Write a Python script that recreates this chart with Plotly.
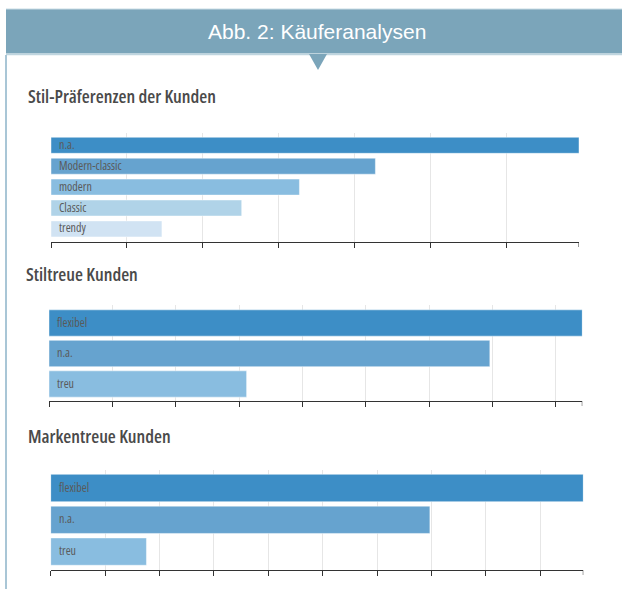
import plotly.graph_objects as go

# ---------------- data ----------------
header_title = "Abb. 2: Käuferanalysen"

stil_title = "Stil-Präferenzen der Kunden"
stil_cats = ["n.a.", "Modern-classic", "modern", "Classic", "trendy"]
stil_vals = [69.5, 42.7, 32.7, 25.1, 14.6]

stiltreue_title = "Stiltreue Kunden"
stiltreue_cats = ["flexibel", "n.a.", "treu"]
stiltreue_vals = [84.2, 69.6, 31.2]

marken_title = "Markentreue Kunden"
marken_cats = ["flexibel", "n.a.", "treu"]
marken_vals = [97.9, 69.7, 17.6]

tick_step = 10

# ---------------- layout helpers ----------------
W, H = 622, 589
def fx(x):
    return x / W
def fy(y):
    return 1 - y / H

palette = ["#3D8EC6", "#66A3CF", "#89BDE0", "#B0D3E8", "#D1E3F3"]
band_color = "#7BA5BA"
title_font = "Open Sans, sans-serif"
label_font = "Open Sans, sans-serif"

def cond(text):
    return f"<span style='font-stretch:75%'>{text}</span>"

charts = [
    dict(title=stil_title, cats=stil_cats, vals=stil_vals,
         x0=51, x1=579, top=133, axis=242, c0=145.3, pitch=20.9, barh=16.0,
         tx=26, ty=95.3),
    dict(title=stiltreue_title, cats=stiltreue_cats, vals=stiltreue_vals,
         x0=49, x1=582.3, top=305, axis=401, c0=323, pitch=30.5, barh=26.3,
         tx=24, ty=273.2),
    dict(title=marken_title, cats=marken_cats, vals=marken_vals,
         x0=50.7, x1=583.3, top=470, axis=570, c0=488, pitch=31.8, barh=27.3,
         tx=26, ty=435.8),
]

fig = go.Figure()
layout = dict(
    width=W, height=H, autosize=False,
    margin=dict(l=0, r=0, t=0, b=0),
    paper_bgcolor="white", plot_bgcolor="rgba(0,0,0,0)",
    showlegend=False,
    shapes=[], annotations=[],
)

for i, ch in enumerate(charts):
    n = i + 1
    xa = "x" if n == 1 else f"x{n}"
    ya = "y" if n == 1 else f"y{n}"
    xkey = "xaxis" if n == 1 else f"xaxis{n}"
    ykey = "yaxis" if n == 1 else f"yaxis{n}"
    vmax = max(ch["vals"])
    ncat = len(ch["cats"])
    fig.add_trace(go.Bar(
        x=ch["vals"], y=ch["cats"], orientation="h",
        xaxis=xa, yaxis=ya,
        width=[ch["barh"] / ch["pitch"]] * ncat,
        marker=dict(color=palette[:ncat],
                    line=dict(color="rgba(255,255,255,0.45)", width=1)),
        hoverinfo="x+y",
    ))
    ticks = []
    t = 0
    while t < vmax - 1e-9:
        ticks.append(t)
        t += tick_step
    layout[xkey] = dict(
        domain=[fx(ch["x0"]), fx(ch["x1"])], anchor=ya,
        range=[0, vmax], tickmode="array", tickvals=ticks,
        showticklabels=False, ticks="outside", ticklen=5, tickwidth=1,
        tickcolor="#333333", showline=True, linecolor="#333333", linewidth=1,
        showgrid=True, gridcolor="#E6E6E6", gridwidth=1, zeroline=False,
        fixedrange=True,
    )
    r0 = (ch["axis"] - ch["c0"]) / ch["pitch"]
    r1 = (ch["top"] - ch["c0"]) / ch["pitch"]
    layout[ykey] = dict(
        domain=[fy(ch["axis"]), fy(ch["top"])], anchor=xa,
        type="category", categoryorder="array", categoryarray=ch["cats"],
        range=[r0, r1], showticklabels=False, ticks="", showline=False,
        showgrid=False, zeroline=False, fixedrange=True,
    )
    # end tick at axis max
    layout["shapes"].append(dict(
        type="line", xref=xa, yref="paper", x0=vmax, x1=vmax,
        y0=fy(ch["axis"]), y1=fy(ch["axis"] + 5),
        line=dict(color="#333333", width=1)))
    # chart title
    layout["annotations"].append(dict(
        text=cond(ch["title"]), xref="paper", yref="paper",
        x=fx(ch["tx"]), y=fy(ch["ty"]), xanchor="left", yanchor="middle",
        align="left", showarrow=False,
        font=dict(family=title_font, size=18.3, weight=600, color="#4A4A4A")))
    # bar labels
    for c in ch["cats"]:
        layout["annotations"].append(dict(
            text=cond(c), xref=xa, yref=ya, x=0, y=c, xanchor="left",
            yanchor="middle", align="left", xshift=6, yshift=1, showarrow=False,
            font=dict(family=label_font, size=12, weight=400, color="#5A5A5A")))

# header band, triangle, left border
layout["shapes"] += [
    dict(type="rect", xref="paper", yref="paper", x0=fx(6), x1=1,
         y0=fy(53.5), y1=fy(9), fillcolor=band_color, line=dict(width=0), layer="below"),
    dict(type="line", xref="paper", yref="paper", x0=fx(6), x1=1,
         y0=fy(9), y1=fy(9), line=dict(color="#C9DCE4", width=1)),
    dict(type="line", xref="paper", yref="paper", x0=fx(6), x1=1,
         y0=fy(54.5), y1=fy(54.5), line=dict(color="#BFD5DF", width=1.5)),
    dict(type="path", xref="paper", yref="paper",
         path=f"M {fx(309)} {fy(54)} L {fx(327)} {fy(54)} L {fx(318)} {fy(70)} Z",
         fillcolor=band_color, line=dict(width=0)),
    dict(type="line", xref="paper", yref="paper", x0=fx(6), x1=fx(6),
         y0=fy(55), y1=0, line=dict(color="#A9C6D6", width=2)),
]
layout["annotations"].append(dict(
    text=header_title, xref="paper", yref="paper", x=fx(317.5), y=fy(32),
    xanchor="center", yanchor="middle", showarrow=False,
    font=dict(family="Liberation Sans, Arial, sans-serif", size=21, color="white")))

fig.update_layout(**layout)

fig.write_html("out.html", config={"displayModeBar": False},
               post_script="document.body.style.margin='0';")
